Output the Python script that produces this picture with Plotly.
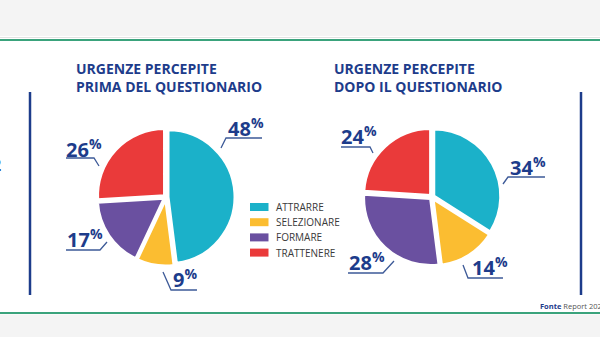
import plotly.graph_objects as go

W, H = 600, 337

categories = ["ATTRARRE", "SELEZIONARE", "FORMARE", "TRATTENERE"]
before_values = [48, 9, 17, 26]
after_values = [34, 14, 28, 24]
colors = ["#1bb1c9", "#fbbd31", "#6a50a0", "#ea3a3a"]
titles = ["URGENZE PERCEPITE<br>PRIMA DEL QUESTIONARIO",
          "URGENZE PERCEPITE<br>DOPO IL QUESTIONARIO"]

BLUE = "#1d3c8b"
LINE = "#3d5a98"


def px(x):
    return x / W


def py(y):
    return 1 - y / H


fig = go.Figure()

pull = 0.03
for vals, cx in [(before_values, 166), (after_values, 432)]:
    cy, r = 197, 67 * (1 + pull)
    fig.add_trace(go.Pie(
        labels=categories, values=vals, sort=False, direction="clockwise",
        rotation=0, pull=[pull] * 4, textinfo="none", hoverinfo="label+percent",
        marker=dict(colors=colors, line=dict(color="white", width=3)),
        domain=dict(x=[px(cx - r), px(cx + r)], y=[py(cy + r), py(cy - r)]),
        showlegend=False,
    ))

shapes = []
annotations = []

# background bands
shapes.append(dict(type="rect", xref="paper", yref="paper", x0=0, x1=1,
                   y0=py(36), y1=1, fillcolor="#f4f4f4", line_width=0, layer="below"))
shapes.append(dict(type="line", xref="paper", yref="paper", x0=0, x1=1,
                   y0=py(37.5), y1=py(37.5), line=dict(color="#e2e2e2", width=1)))
shapes.append(dict(type="line", xref="paper", yref="paper", x0=0, x1=1,
                   y0=py(40), y1=py(40), line=dict(color="#3aa37c", width=2)))
shapes.append(dict(type="rect", xref="paper", yref="paper", x0=0, x1=1,
                   y0=0, y1=py(314.5), fillcolor="#f4f4f4", line_width=0, layer="below"))
shapes.append(dict(type="line", xref="paper", yref="paper", x0=0, x1=1,
                   y0=py(313), y1=py(313), line=dict(color="#3aa37c", width=2)))

# vertical separators
for x in (30, 581):
    shapes.append(dict(type="line", xref="paper", yref="paper", x0=px(x), x1=px(x),
                       y0=py(92), y1=py(295), line=dict(color=BLUE, width=2.5)))

# titles
for t, x in zip(titles, (74, 332)):
    annotations.append(dict(xref="paper", yref="paper", x=px(x), y=py(77),
                            xanchor="left", yanchor="middle", align="left",
                            text="<b>%s</b>" % t, showarrow=False,
                            font=dict(family="Open Sans", size=14, color=BLUE)))

# value labels with leader lines
label_pos = [
    # (value, text left x, center y, leader path points)
    (before_values[0], 228, 127, [(221, 148), (226, 138), (262, 138)]),
    (before_values[1], 173, 278, [(163, 272), (171, 290), (197, 290)]),
    (before_values[2], 67, 239, [(107, 242), (100, 250), (66, 250)]),
    (before_values[3], 66, 148, [(99, 166), (94, 158), (66, 158)]),
    (after_values[0], 510, 166, [(503, 184), (508, 177), (545, 177)]),
    (after_values[1], 472, 266, [(463, 265), (468, 278), (503, 278)]),
    (after_values[2], 349, 261, [(394, 261), (383, 273), (348, 273)]),
    (after_values[3], 341, 136, [(373, 153), (370, 147), (341, 147)]),
]
for v, x, y, pts in label_pos:
    annotations.append(dict(xref="paper", yref="paper", x=px(x - 2), y=py(y),
                            xanchor="left", yanchor="middle",
                            text="<b>%d</b><sup><b>%%</b></sup>" % v, showarrow=False,
                            font=dict(family="Open Sans", size=20, color=BLUE)))
    path = "M %f %f " % (px(pts[0][0]), py(pts[0][1])) + " ".join(
        "L %f %f" % (px(a), py(b)) for a, b in pts[1:])
    shapes.append(dict(type="path", xref="paper", yref="paper", path=path,
                       line=dict(color=LINE, width=1.3)))

# custom legend
for i, (c, lab) in enumerate(zip(colors, categories)):
    yc = 207 + i * 15.2
    shapes.append(dict(type="rect", xref="paper", yref="paper",
                       x0=px(250), x1=px(268.5), y0=py(yc + 4), y1=py(yc - 4),
                       fillcolor=c, line_width=0))
    annotations.append(dict(xref="paper", yref="paper", x=px(274), y=py(yc),
                            xanchor="left", yanchor="middle", text=lab, showarrow=False,
                            font=dict(family="Open Sans", size=10, color="#3a3a3a")))

# cut-off glyph at left edge
annotations.append(dict(xref="paper", yref="paper", x=px(3), y=py(165),
                        xanchor="right", yanchor="middle", text="<b>2</b>", showarrow=False,
                        font=dict(family="Open Sans", size=16, color=BLUE)))

# source
annotations.append(dict(xref="paper", yref="paper", x=px(538), y=py(306),
                        xanchor="left", yanchor="middle",
                        text="<b>Fonte</b> <span style='color:#555'>Report 2024</span>",
                        showarrow=False,
                        font=dict(family="Open Sans", size=7.5, color=BLUE)))

fig.update_layout(
    width=W, height=H, margin=dict(l=0, r=0, t=0, b=0),
    paper_bgcolor="white", plot_bgcolor="white",
    shapes=shapes, annotations=annotations, showlegend=False,
)

fig.write_html("out.html", config={"displayModeBar": False})
